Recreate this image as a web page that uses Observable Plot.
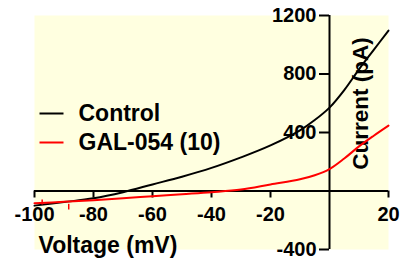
<!DOCTYPE html>
<html>
<head>
<meta charset="utf-8">
<script src="https://cdn.jsdelivr.net/npm/d3@7"></script>
<script src="https://cdn.jsdelivr.net/npm/@observablehq/plot@0.6"></script>
<style>
  html, body { margin: 0; padding: 0; background: #ffffff; }
  #chart svg { display: block; }
</style>
</head>
<body>
<div id="chart"></div>
<script>
// Data
const voltage = [-100, -90, -80, -70, -60, -50, -40, -30, -20, -10, -5, 0, 5, 10, 15, 20];
const control = [-100, -76, -50, -8, 45, 98, 158, 230, 312, 415, 485, 570, 690, 832, 965, 1097];
const gal054  = [-84, -74, -63, -50, -36, -22, -8, 10, 45, 80, 108, 150, 222, 305, 378, 447];

// small red error bars near the left end of the GAL-054 trace
const errVoltage = [-97.4, -88.4];
const errLow     = [-96, -130];
const errHigh    = [-61, -91];

const seriesNames  = ["Control", "GAL-054 (10)"];
const seriesColors = ["#000000", "#ff0000"];

const xTicks = [-100, -80, -60, -40, -20, 20];
const xTickLabels = ["-100", "-80", "-60", "-40", "-20", "20"];
const yTicks = [1200, 800, 400, -400];
const yTickLabels = ["1200", "800", "400", "-400"];

const xTitle = "Voltage (mV)";
const yTitle = "Current (pA)";

const controlRows = voltage.map((v, i) => ({v, c: control[i]}));
const galRows = voltage.map((v, i) => ({v, c: gal054[i]}));
const errRows = errVoltage.map((v, i) => ({v, lo: errLow[i], hi: errHigh[i]}));
const xTickRows = xTicks.map((t, i) => ({t, label: xTickLabels[i]}));
const yTickRows = yTicks.map((t, i) => ({t, label: yTickLabels[i]}));

const dash = {draw(context) { context.moveTo(-12, 0); context.lineTo(12, 0); }};

const legendMarks = seriesNames.flatMap((name, i) => [
  Plot.dot([name], {frameAnchor: "top-left", dx: 17, dy: 98 + i * 29, symbol: dash,
                    stroke: seriesColors[i], strokeWidth: 2, fill: "none"}),
  Plot.text([name], {frameAnchor: "top-left", dx: 44, dy: 98 + i * 29, text: d => d,
                     textAnchor: "start", lineAnchor: "middle", fontSize: 23})
]);

const chart = Plot.plot({
  width: 409,
  height: 276,
  marginLeft: 34,
  marginRight: 21,
  marginTop: 15,
  marginBottom: 27,
  x: {domain: [-100, 20], axis: null},
  y: {domain: [-400, 1200], axis: null},
  style: {fontFamily: "'Liberation Sans', Arial, sans-serif", fontWeight: "bold", background: "#ffffff", color: "#000"},
  marks: [
    Plot.frame({fill: "#ffffe0", stroke: "none"}),
    // y title (behind the curves)
    Plot.text([yTitle], {frameAnchor: "top-right", dx: -27.5, dy: 88, rotate: -90, text: d => d,
                         textAnchor: "middle", lineAnchor: "middle", fontSize: 22.5}),
    // axes
    Plot.ruleY([0], {stroke: "#000", strokeWidth: 2}),
    Plot.ruleX([0], {stroke: "#000", strokeWidth: 2}),
    Plot.ruleX(xTickRows, {x: "t", y1: () => 0, y2: () => 0, insetBottom: -7, stroke: "#000", strokeWidth: 2}),
    Plot.ruleY(yTickRows, {y: "t", x1: () => 0, x2: () => 0, insetLeft: -10, stroke: "#000", strokeWidth: 2}),
    Plot.text(xTickRows, {x: "t", y: () => 0, dy: 24, text: "label", textAnchor: "middle", lineAnchor: "middle", fontSize: 20}),
    Plot.text(yTickRows, {x: () => 0, y: "t", dx: -13, text: "label", textAnchor: "end", lineAnchor: "middle", fontSize: 20}),
    Plot.text([xTitle], {frameAnchor: "bottom-left", dx: 4, dy: -4, text: d => d,
                         textAnchor: "start", lineAnchor: "middle", fontSize: 23}),
    // data
    Plot.line(controlRows, {x: "v", y: "c", stroke: seriesColors[0], strokeWidth: 2, curve: "catmull-rom"}),
    Plot.line(galRows, {x: "v", y: "c", stroke: seriesColors[1], strokeWidth: 2, curve: "catmull-rom"}),
    Plot.ruleX(errRows, {x: "v", y1: "lo", y2: "hi", stroke: seriesColors[1], strokeWidth: 1.5}),
    ...legendMarks
  ]
});
document.getElementById("chart").appendChild(chart);
</script>
</body>
</html>
